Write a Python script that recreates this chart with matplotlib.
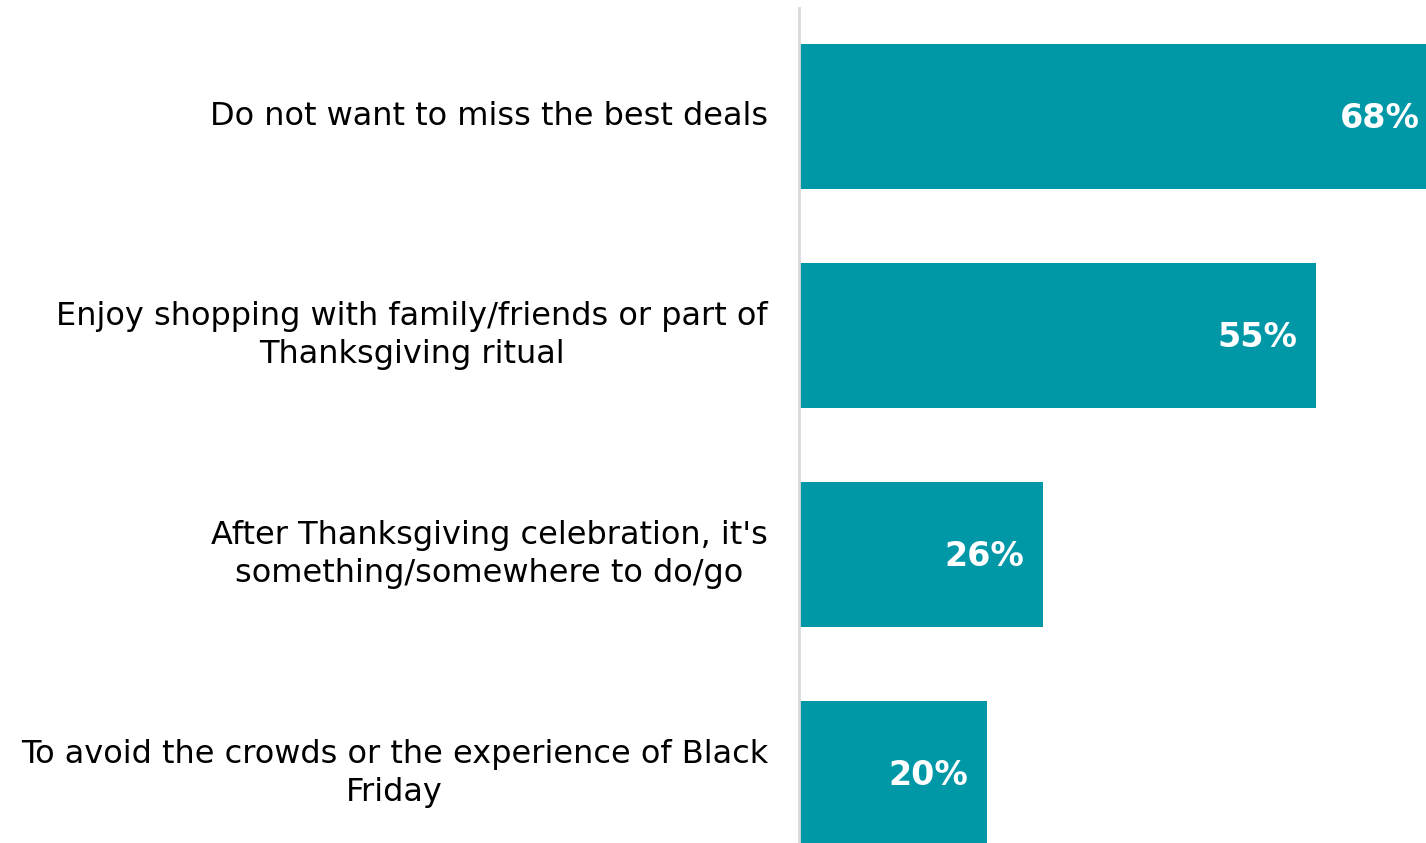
import matplotlib
matplotlib.use("Agg")
import matplotlib.pyplot as plt

categories = [
    "Do not want to miss the best deals",
    "Enjoy shopping with family/friends or part of\nThanksgiving ritual",
    "After Thanksgiving celebration, it's\nsomething/somewhere to do/go",
    "To avoid the crowds or the experience of Black\nFriday",
]
values = [68, 55, 26, 20]
value_labels = ["68%", "55%", "26%", "20%"]

BAR_COLOR = "#0097A7"
W, H = 1426, 843

fig = plt.figure(figsize=(W / 100, H / 100), dpi=100)
left, top, bottom = 799 / W, 8 / H, 0
ax = fig.add_axes([left, bottom, 1 - left, 1 - top])

y = list(range(len(categories)))
ax.barh(y, values, height=0.662, color=BAR_COLOR, zorder=2)
ax.set_xlim(0, 66.7)
ax.set_ylim(3.317, -0.495)

for yi, v, lab in zip(y, values, value_labels):
    ax.annotate(lab, xy=(v - 2.0, yi), xytext=(0, -2), textcoords="offset pixels",
                ha="right", va="center", color="white",
                fontsize=24, fontweight="bold", family="DejaVu Sans")

for yi, cat in zip(y, categories):
    ax.annotate(cat, xy=(0, yi), xycoords=("axes fraction", "data"),
                xytext=(-31, 0), textcoords="offset pixels",
                ha="right", va="center", multialignment="center",
                fontsize=23, color="black", family="DejaVu Sans",
                linespacing=1.3)

for side in ("top", "right", "bottom"):
    ax.spines[side].set_visible(False)
ax.spines["left"].set_color("#d9d9d9")
ax.spines["left"].set_linewidth(2)
ax.set_xticks([])
ax.set_yticks([])

fig.savefig("out.png", dpi=100)
